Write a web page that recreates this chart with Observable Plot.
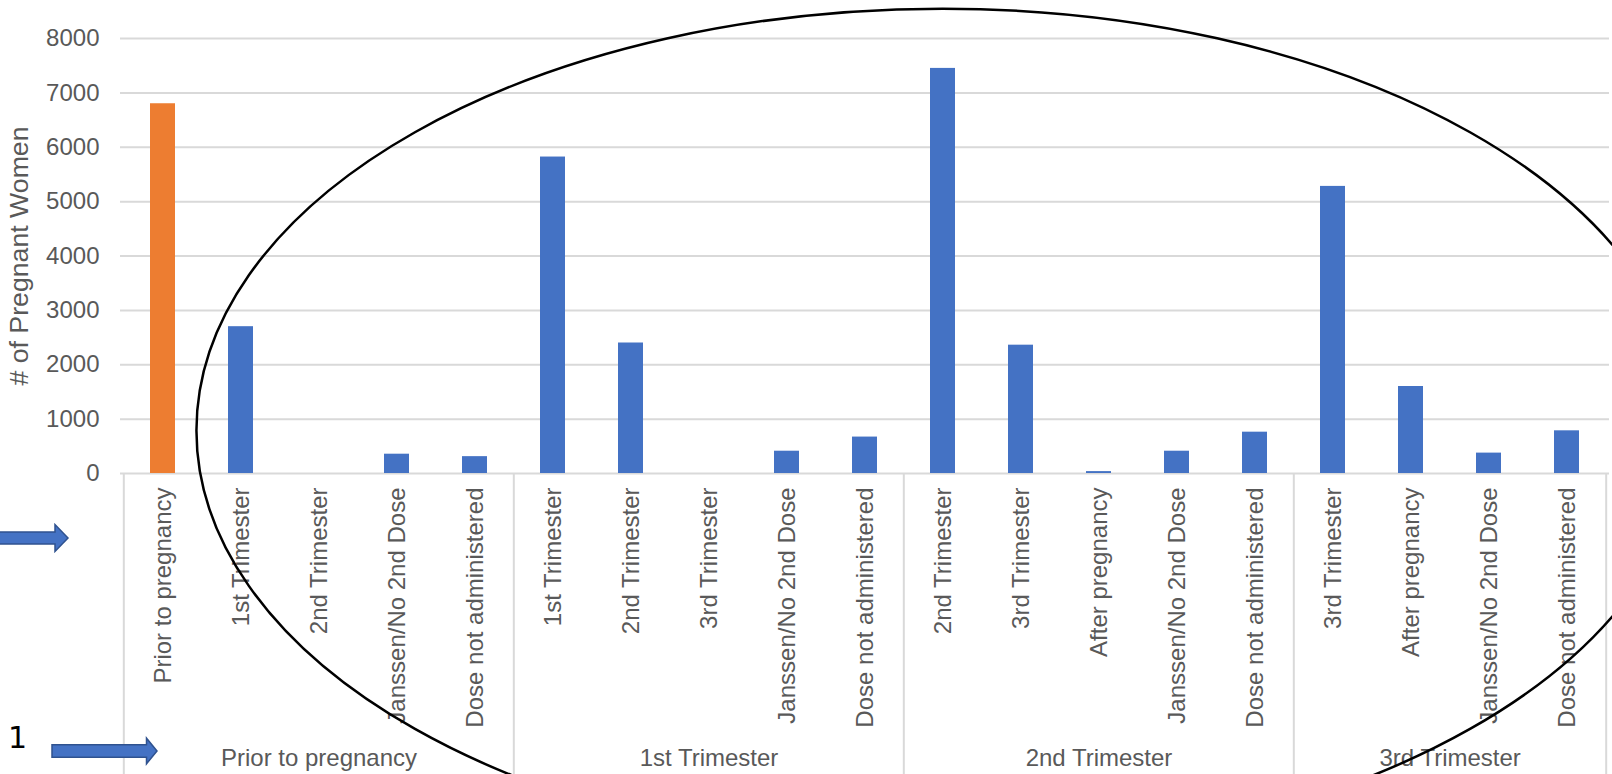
<!DOCTYPE html>
<html>
<head>
<meta charset="utf-8">
<script src="https://cdn.jsdelivr.net/npm/d3@7"></script>
<script src="https://cdn.jsdelivr.net/npm/@observablehq/plot@0.6"></script>
<style>
  html, body { margin: 0; padding: 0; background: #fff; overflow: hidden; }
  #chart svg { display: block; }
</style>
</head>
<body>
<div id="chart"></div>
<script>
// Outer axis level: trimester of the first dose
const groups = ["Prior to pregnancy", "1st Trimester", "2nd Trimester", "3rd Trimester"];
// Which outer group each bar belongs to
const groupOfBar = [0, 0, 0, 0, 0, 1, 1, 1, 1, 1, 2, 2, 2, 2, 2, 3, 3, 3, 3];
// Inner axis level: timing of the second dose
const timing = [
  "Prior to pregnancy", "1st Trimester", "2nd Trimester", "Janssen/No 2nd Dose", "Dose not administered",
  "1st Trimester", "2nd Trimester", "3rd Trimester", "Janssen/No 2nd Dose", "Dose not administered",
  "2nd Trimester", "3rd Trimester", "After pregnancy", "Janssen/No 2nd Dose", "Dose not administered",
  "3rd Trimester", "After pregnancy", "Janssen/No 2nd Dose", "Dose not administered"
];
// Number of pregnant women in each bar
const women = [
  6800, 2700, 0, 355, 310,
  5820, 2400, 0, 410, 670,
  7450, 2360, 35, 410, 760,
  5280, 1600, 375, 785
];
const yTicks = [0, 1000, 2000, 3000, 4000, 5000, 6000, 7000, 8000];
const yTitle = "# of Pregnant Women";
const highlighted = "Prior to pregnancy";
const calloutLabel = "1";

const data = timing.map((t, i) => ({
  key: `${groups[groupOfBar[i]]}|${t}`,
  group: groups[groupOfBar[i]],
  timing: t,
  women: women[i]
}));

const W = 1612, H = 774;
const mL = 120, mR = 3, mT = 38, mB = 301;
const step = (W - mL - mR) / data.length;
const ink = "#595959", grid = "#d9d9d9";
const font = "'Liberation Sans', Arial, sans-serif";

// value reached at the bottom edge of the svg (for separators running through the axis area)
const yBottom = -yTicks[yTicks.length - 1] * mB / (H - mT - mB);

// group extents along the band scale
const spans = groups.map(g => {
  const idx = data.map((d, i) => d.group === g ? i : -1).filter(i => i >= 0);
  const a = idx[0], b = idx[idx.length - 1], mid = (a + b) / 2;
  return {group: g, first: data[a].key, last: data[b].key, midKey: data[Math.floor(mid)].key, half: mid !== Math.floor(mid)};
});

const chart = Plot.plot({
  width: W,
  height: H,
  marginLeft: mL,
  marginRight: mR,
  marginTop: mT,
  marginBottom: mB,
  style: {fontFamily: font, background: "#fff", overflow: "hidden"},
  x: {type: "band", domain: data.map(d => d.key), paddingInner: 0.68, paddingOuter: 0.34, axis: null},
  y: {domain: [0, 8000], axis: null},
  color: {type: "identity"},
  marks: [
    Plot.ruleY(yTicks, {stroke: grid, strokeWidth: 2}),
    // group separators through the category axis
    Plot.ruleX(spans, {x: "first", y1: 0, y2: yBottom, dx: -step / 2, stroke: grid, strokeWidth: 2}),
    Plot.ruleX(spans.slice(-1), {x: "last", y1: 0, y2: yBottom, dx: step / 2, stroke: grid, strokeWidth: 2}),
    Plot.barY(data, {x: "key", y: "women", fill: d => d.timing === highlighted ? "#ed7d31" : "#4472c4"}),
    // value axis labels
    Plot.text(yTicks, {y: d => d, text: d => String(d), frameAnchor: "left", textAnchor: "end", lineAnchor: "middle", dx: -21, fontSize: 24, fill: ink}),
    Plot.text([yTitle], {text: d => d, frameAnchor: "left", rotate: -90, textAnchor: "middle", lineAnchor: "middle", dx: 19 - mL, fontSize: 26.7, fill: ink}),
    // inner category labels
    Plot.text(data, {x: "key", text: "timing", frameAnchor: "bottom", rotate: -90, textAnchor: "end", lineAnchor: "middle", dy: 14, fontSize: 24, fill: ink}),
    // outer group labels
    Plot.text(spans.filter(s => !s.half), {x: "midKey", text: "group", frameAnchor: "bottom", lineAnchor: "middle", dy: 285, fontSize: 24, fill: ink}),
    Plot.text(spans.filter(s => s.half), {x: "midKey", text: "group", frameAnchor: "bottom", lineAnchor: "middle", dy: 285, dx: step / 2, fontSize: 24, fill: ink})
  ]
});

document.getElementById("chart").append(chart);

// Callout ellipse drawn around the bars dosed during pregnancy
const xs = chart.scale("x"), ys = chart.scale("y");
const bw = xs.bandwidth != null ? xs.bandwidth : step * 0.32;
const ring = {centerBar: 10, value: 780, rxBars: 9.52, ryValue: 7760};
const svg = d3.select(chart);
svg.append("ellipse")
  .attr("cx", xs.apply(data[ring.centerBar].key) + bw / 2)
  .attr("cy", ys.apply(ring.value))
  .attr("rx", ring.rxBars * step)
  .attr("ry", ys.apply(0) - ys.apply(ring.ryValue))
  .attr("fill", "none")
  .attr("stroke", "#000")
  .attr("stroke-width", 2.5);

// Block arrows pointing at the two label levels
function blockArrow(x0, x1, xTip, yc, shaftHalf, headHalf) {
  return [[x0, yc - shaftHalf], [x1, yc - shaftHalf], [x1, yc - headHalf], [xTip, yc],
          [x1, yc + headHalf], [x1, yc + shaftHalf], [x0, yc + shaftHalf]].map(p => p.join(",")).join(" ");
}
const arrows = [
  blockArrow(-6, 55, 68, 538, 6, 13.5),
  blockArrow(52, 146.5, 157, 751, 6.2, 12.8)
];
svg.selectAll("polygon.arrow").data(arrows).join("polygon")
  .attr("class", "arrow")
  .attr("points", d => d)
  .attr("fill", "#4472c4")
  .attr("stroke", "#2f528f")
  .attr("stroke-width", 1.5);

svg.append("text")
  .attr("x", 17.5)
  .attr("y", 748)
  .attr("text-anchor", "middle")
  .attr("font-family", "'DejaVu Sans', sans-serif")
  .attr("font-size", 30)
  .attr("fill", "#000")
  .text(calloutLabel);
</script>
</body>
</html>
